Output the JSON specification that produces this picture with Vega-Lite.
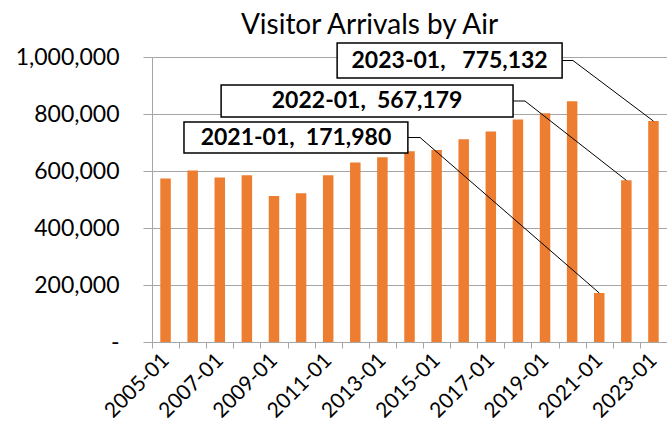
{
  "$schema": "https://vega.github.io/schema/vega-lite/v6.json",
  "width": 515,
  "height": 285,
  "autosize": {"type": "none"},
  "padding": {"left": 152, "top": 57, "right": 0, "bottom": 91},
  "title": {"text": "Visitor Arrivals by Air", "font": "Lato", "fontSize": 28, "fontWeight": "normal", "color": "#000000", "dx": -40, "offset": 2},
  "config": {"view": {"stroke": null}, "font": "Lato"},
  "datasets": {
    "arrivalsData": [
      {"period": "2005-01", "year": 2005, "arrivals": 574000},
      {"period": "2006-01", "year": 2006, "arrivals": 602000},
      {"period": "2007-01", "year": 2007, "arrivals": 577000},
      {"period": "2008-01", "year": 2008, "arrivals": 585000},
      {"period": "2009-01", "year": 2009, "arrivals": 512000},
      {"period": "2010-01", "year": 2010, "arrivals": 522000},
      {"period": "2011-01", "year": 2011, "arrivals": 585000},
      {"period": "2012-01", "year": 2012, "arrivals": 630000},
      {"period": "2013-01", "year": 2013, "arrivals": 648000},
      {"period": "2014-01", "year": 2014, "arrivals": 669000},
      {"period": "2015-01", "year": 2015, "arrivals": 674000},
      {"period": "2016-01", "year": 2016, "arrivals": 711000},
      {"period": "2017-01", "year": 2017, "arrivals": 739000},
      {"period": "2018-01", "year": 2018, "arrivals": 781000},
      {"period": "2019-01", "year": 2019, "arrivals": 803000},
      {"period": "2020-01", "year": 2020, "arrivals": 845000},
      {"period": "2021-01", "year": 2021, "arrivals": 171980},
      {"period": "2022-01", "year": 2022, "arrivals": 567179},
      {"period": "2023-01", "year": 2023, "arrivals": 775132}
    ],
    "boxData": [
      {"label": "2021-01,\u00a0\u00a0171,980", "x1": 2005.68, "x2": 2013.94, "y1": 771900, "y2": 663200, "xc": 2009.81, "yc": 717500},
      {"label": "2022-01,\u00a0\u00a0567,179", "x1": 2007.05, "x2": 2017.82, "y1": 901800, "y2": 789500, "xc": 2012.435, "yc": 845600},
      {"label": "2023-01,\u00a0\u00a0\u00a0775,132", "x1": 2011.33, "x2": 2019.63, "y1": 1049000, "y2": 926000, "xc": 2015.48, "yc": 987700}
    ],
    "leaderData": [
      {"callout": "a2021", "step": 1, "lx": 2013.94, "ly": 717500},
      {"callout": "a2021", "step": 2, "lx": 2014.39, "ly": 717500},
      {"callout": "a2021", "step": 3, "lx": 2021, "ly": 171980},
      {"callout": "a2022", "step": 1, "lx": 2017.82, "ly": 845600},
      {"callout": "a2022", "step": 2, "lx": 2018.26, "ly": 845600},
      {"callout": "a2022", "step": 3, "lx": 2022, "ly": 567179},
      {"callout": "a2023", "step": 1, "lx": 2019.63, "ly": 987700},
      {"callout": "a2023", "step": 2, "lx": 2020.03, "ly": 987700},
      {"callout": "a2023", "step": 3, "lx": 2023, "ly": 775132}
    ]
  },
  "layer": [
    {
      "data": {"name": "arrivalsData"},
      "mark": {"type": "bar", "color": "#ED7D31", "orient": "vertical", "size": 10.5},
      "encoding": {
        "x": {
          "field": "year", "type": "quantitative",
          "scale": {"domain": [2004.5, 2023.5], "nice": false, "zero": false, "padding": 0},
          "axis": {
            "title": null, "grid": false, "tickCount": 100,
            "values": [2004.5, 2005, 2005.5, 2006, 2006.5, 2007, 2007.5, 2008, 2008.5, 2009, 2009.5, 2010, 2010.5, 2011, 2011.5, 2012, 2012.5, 2013, 2013.5, 2014, 2014.5, 2015, 2015.5, 2016, 2016.5, 2017, 2017.5, 2018, 2018.5, 2019, 2019.5, 2020, 2020.5, 2021, 2021.5, 2022, 2022.5, 2023, 2023.5],
            "labelExpr": "(datum.value % 1 == 0 && datum.value % 2 == 1) ? format(datum.value, 'd') + '-01' : ''",
            "tickOpacity": {"condition": {"test": "datum.value % 1 == 0", "value": 0}, "value": 1},
            "labelAngle": -45, "labelAlign": "right", "labelBaseline": "middle",
            "labelOverlap": false, "labelFlush": false, "labelBound": false,
            "labelFont": "Lato", "labelFontSize": 21, "labelColor": "#000000", "labelPadding": 9,
            "tickColor": "#A6A6A6", "tickSize": 6, "domainColor": "#A6A6A6"
          }
        },
        "y": {
          "field": "arrivals", "type": "quantitative", "stack": null,
          "scale": {"domain": [0, 1000000], "nice": false},
          "axis": {
            "title": null, "values": [0, 200000, 400000, 600000, 800000, 1000000],
            "labelExpr": "datum.value == 0 ? '-' : format(datum.value, ',')",
            "labelFont": "Lato", "labelFontSize": 23, "labelColor": "#000000", "labelPadding": 24,
            "tickColor": "#A6A6A6", "tickSize": 9, "domainColor": "#A6A6A6",
            "grid": true, "gridColor": "#A6A6A6"
          }
        }
      }
    },
    {
      "data": {"name": "leaderData"},
      "mark": {"type": "line", "color": "#000000", "strokeWidth": 1},
      "encoding": {
        "x": {"field": "lx", "type": "quantitative"},
        "y": {"field": "ly", "type": "quantitative"},
        "detail": {"field": "callout"},
        "order": {"field": "step", "type": "quantitative"}
      }
    },
    {
      "data": {"name": "boxData"},
      "mark": {"type": "rect", "fill": "#FFFFFF", "stroke": "#000000", "strokeWidth": 1.5},
      "encoding": {
        "x": {"field": "x1", "type": "quantitative"},
        "x2": {"field": "x2"},
        "y": {"field": "y1", "type": "quantitative"},
        "y2": {"field": "y2"}
      }
    },
    {
      "data": {"name": "boxData"},
      "mark": {"type": "text", "font": "Lato", "fontWeight": "bold", "fontSize": 23, "color": "#000000"},
      "encoding": {
        "x": {"field": "xc", "type": "quantitative"},
        "y": {"field": "yc", "type": "quantitative"},
        "text": {"field": "label"}
      }
    }
  ]
}
